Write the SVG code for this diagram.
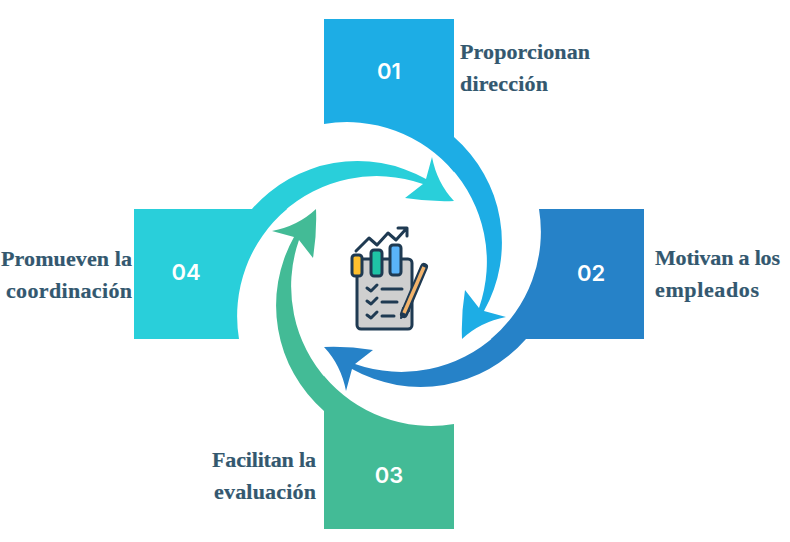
<svg xmlns="http://www.w3.org/2000/svg" width="790" height="542" viewBox="0 0 790 542">
<defs>
<path id="box" d="M324,19H454V172A140,140 0 0 0 324,124Z"/>
<path id="rib" d="M454,137A140,140 0 0 1 484,311L506,317Q480,322 462,339Q461,315 465,290L479,308A140,140 0 0 0 450,167Z"/>
</defs>
<style>
.lbl{font-family:"Liberation Serif","DejaVu Serif",serif;font-weight:700;font-size:22px;fill:#33586F;stroke:#33586F;stroke-width:.2}
.end{text-anchor:end}
.num{font-family:Inter,"Open Sans",sans-serif;font-weight:600;font-size:22px;fill:#fff;text-anchor:middle}
.dk{fill:none;stroke:#1F3A52;stroke-width:3;stroke-linecap:round;stroke-linejoin:round}
.bar{stroke:#1F3A52;stroke-width:3}
</style>
<rect width="790" height="542" fill="#fff"/>
<g id="connectors">
<use href="#rib" fill="#1DADE5"/>
<use href="#rib" fill="#2682C8" transform="rotate(90 389 274)"/>
<use href="#rib" fill="#43BB96" transform="rotate(180 389 274)"/>
<use href="#rib" fill="#29CFDA" transform="rotate(270 389 274)"/>
</g>
<g id="node-01">
<use href="#box" fill="#1DADE5"/>
<text class="num" x="389" y="79">01</text>
<text class="lbl" x="460" y="59" textLength="130">Proporcionan</text>
<text class="lbl" x="460" y="91" textLength="88">dirección</text>
</g>
<g id="node-02">
<use href="#box" fill="#2682C8" transform="rotate(90 389 274)"/>
<text class="num" x="591" y="281">02</text>
<text class="lbl" x="655" y="265" textLength="125">Motivan a los</text>
<text class="lbl" x="655" y="297" textLength="104">empleados</text>
</g>
<g id="node-03">
<use href="#box" fill="#43BB96" transform="rotate(180 389 274)"/>
<text class="num" x="389" y="483">03</text>
<text class="lbl end" x="316" y="467" textLength="104">Facilitan la</text>
<text class="lbl end" x="316" y="499" textLength="102">evaluación</text>
</g>
<g id="node-04">
<use href="#box" fill="#29CFDA" transform="rotate(270 389 274)"/>
<text class="num" x="186" y="280">04</text>
<text class="lbl end" x="132" y="266" textLength="131">Promueven la</text>
<text class="lbl end" x="132" y="298" textLength="126">coordinación</text>
</g>
<g id="icon">
<rect x="357" y="259" width="55" height="70" rx="4" fill="#CFCFCF" stroke="#1F3A52" stroke-width="3"/>
<rect class="bar" x="352" y="255" width="10" height="21" rx="3" fill="#FFC02E"/>
<rect class="bar" x="371" y="250" width="11" height="26" rx="3" fill="#1FC4A6"/>
<rect class="bar" x="390" y="245" width="11" height="30" rx="3" fill="#5AB4FA"/>
<path class="dk" d="M356,251L369,238L377,245L388,233L396,240L406,229M398,228H407V236"/>
<path class="dk" d="M367,288L371,291L377,285M382,289H402M367,301L371,304L377,298M382,302H397M367,315L371,318L377,312M382,316H394"/>
<path d="M424,267L404,314" fill="none" stroke="#1F3A52" stroke-width="8" stroke-linecap="round"/>
<path d="M401,318L403,308L409,311Z" fill="#1F3A52" stroke="#1F3A52" stroke-width="2" stroke-linejoin="round"/>
<path d="M424,267L404,313" fill="none" stroke="#F2B36B" stroke-width="3.5"/>
</g>
</svg>
